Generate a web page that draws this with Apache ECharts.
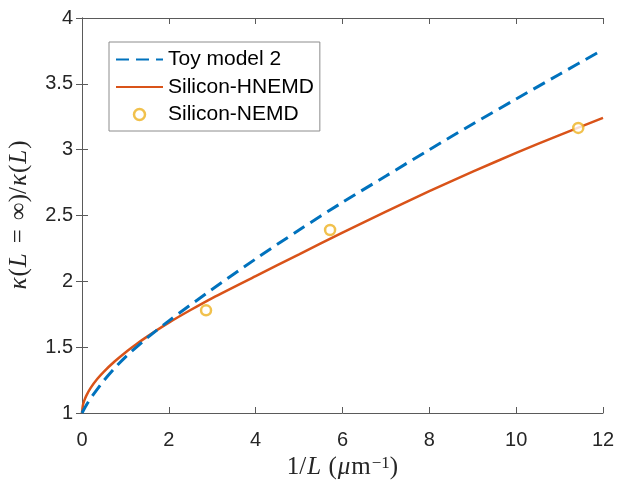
<!DOCTYPE html>
<html>
<head>
<meta charset="utf-8">
<script src="https://cdn.jsdelivr.net/npm/echarts@6/dist/echarts.min.js"></script>
<style>
html,body{margin:0;padding:0;background:#fff;}
#c{width:617px;height:481px;}
</style>
</head>
<body>
<div id="c"></div>
<script>
// 1/L (um^-1) sample positions
const toyX = [0, 0.1, 0.25, 0.5, 0.75, 1, 1.5, 2, 3, 4, 5, 6, 7, 8, 9, 10, 11, 12];
const toyY = [1.00, 1.06, 1.135, 1.245, 1.34, 1.425, 1.57, 1.70, 1.94, 2.17, 2.39, 2.60, 2.80, 3.00, 3.195, 3.385, 3.573, 3.76];
const hnemdX = [0, 0.02, 0.05, 0.1, 0.2, 0.35, 0.5, 0.75, 1, 1.25, 1.5, 2, 2.5, 3, 4, 5, 6, 7, 8, 9, 10, 11, 12];
const hnemdY = [1.00, 1.058, 1.092, 1.132, 1.191, 1.258, 1.313, 1.391, 1.46, 1.522, 1.58, 1.686, 1.782, 1.873, 2.04, 2.205, 2.37, 2.53, 2.685, 2.833, 2.975, 3.111, 3.241];
const nemdX = [2.857, 5.714, 11.43];
const nemdY = [1.78, 2.39, 3.165];
const xTicks = [0, 2, 4, 6, 8, 10, 12];
const yTicks = [1, 1.5, 2, 2.5, 3, 3.5, 4];

const zip = (a, b) => a.map((v, i) => [v, b[i]]);
const axisCol = '#5a5a5a';
const lblFont = 'Liberation Sans';
const mathFont = 'Liberation Serif';

const chart = echarts.init(document.getElementById('c'));
const common = {
  axisLine: {show: true, lineStyle: {color: axisCol, width: 1}},
  axisTick: {show: true, inside: true, length: 6, lineStyle: {color: axisCol, width: 1}},
  splitLine: {show: false}
};
const hideSym = {color: 'rgba(0,0,0,0)', borderWidth: 0, opacity: 0};
chart.setOption({
  animation: false,
  backgroundColor: '#fff',
  grid: {left: 82, right: 14, top: 18, bottom: 68, containLabel: false, outerBoundsMode: 'none'},
  legend: {
    orient: 'vertical', left: 109, top: 42,
    backgroundColor: '#fff', borderColor: '#8c8c8c', borderWidth: 1, borderRadius: 0,
    padding: [7, 6, 6, 6], itemGap: 6.5, itemWidth: 47, itemHeight: 11,
    textStyle: {fontFamily: lblFont, fontSize: 21, color: '#000', lineHeight: 20},
    data: [
      {name: 'Toy model 2', itemStyle: hideSym},
      {name: 'Silicon-HNEMD', itemStyle: hideSym},
      {name: 'Silicon-NEMD', icon: 'circle', itemStyle: {color: '#fff', borderColor: '#EDB120', borderWidth: 2.5}}
    ]
  },
  xAxis: [
    Object.assign({
      type: 'value', min: 0, max: 12, interval: 2, position: 'bottom',
      axisLabel: {fontFamily: lblFont, fontSize: 20, color: '#262626', margin: 17},
      name: '{n|1/}{i|L}{n| (}{i|μ}{n|m}{s|−1}{n|)}', nameLocation: 'middle', nameGap: 38,
      nameTextStyle: {rich: {
        n: {fontFamily: mathFont, fontSize: 25, color: '#262626'},
        i: {fontFamily: mathFont, fontStyle: 'italic', fontSize: 25, color: '#262626', padding: [0, 1, 0, 1]},
        s: {fontFamily: mathFont, fontSize: 17, color: '#262626', verticalAlign: 'top', padding: [0, 0, 9, 1]}
      }}
    }, common),
    Object.assign({
      type: 'value', min: 0, max: 12, interval: 2, position: 'top',
      axisLabel: {show: false}
    }, common)
  ],
  yAxis: [
    Object.assign({
      type: 'value', min: 1, max: 4, interval: 0.5, position: 'left',
      axisLabel: {fontFamily: lblFont, fontSize: 20, color: '#262626', margin: 9},
      name: '{i|κ}{n|(}{i|L}{e|=}{n|∞)/}{i|κ}{n|(}{i|L}{n|)}', nameLocation: 'middle', nameGap: 50, nameRotate: 90,
      nameTextStyle: {rich: {
        n: {fontFamily: mathFont, fontSize: 25, color: '#262626'},
        e: {fontFamily: mathFont, fontSize: 25, color: '#262626', padding: [0, 9, 0, 9]},
        i: {fontFamily: mathFont, fontStyle: 'italic', fontSize: 25, color: '#262626', padding: [0, 1, 0, 1]}
      }}
    }, common),
    Object.assign({
      type: 'value', min: 1, max: 4, interval: 0.5, position: 'right',
      axisLabel: {show: false}
    }, common)
  ],
  series: [
    {
      name: 'Toy model 2', type: 'line', data: zip(toyX, toyY), smooth: 0.3, symbol: 'none',
      lineStyle: {color: '#0072BD', width: 3, type: [13, 7]}, itemStyle: {color: '#0072BD'}, z: 3
    },
    {
      name: 'Silicon-HNEMD', type: 'line', data: zip(hnemdX, hnemdY), smooth: 0.3, symbol: 'none',
      lineStyle: {color: '#D95319', width: 2.5}, itemStyle: {color: '#D95319'}, z: 2
    },
    {
      name: 'Silicon-NEMD', type: 'scatter', data: zip(nemdX, nemdY), symbol: 'circle', symbolSize: 10,
      itemStyle: {color: '#fff', borderColor: '#EDB120', borderWidth: 2.5}, z: 4
    }
  ]
});
</script>
</body>
</html>
